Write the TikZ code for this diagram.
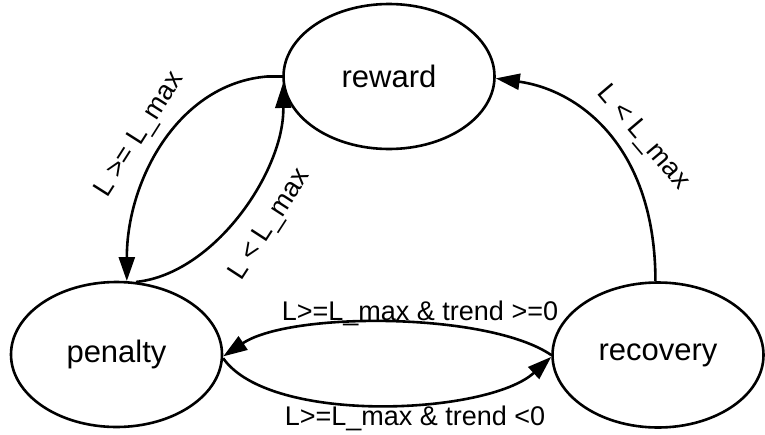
\documentclass[tikz,border=0pt]{standalone}
\usepackage{fontspec}
\setmainfont{Liberation Sans}
\usetikzlibrary{arrows.meta,shapes.geometric}
\begin{document}
\begin{tikzpicture}[x=1pt,y=-1pt,
  state/.style={ellipse,draw,line width=2.6pt,minimum width=211pt,minimum height=145pt,inner sep=0pt,
    font=\fontsize{31}{36}\selectfont},
  edge/.style={line width=2.6pt,-{Triangle[length=24pt,width=16pt]}},
  lbl/.style={font=\fontsize{27}{32}\selectfont,inner sep=0pt}]
\useasboundingbox (0,0) rectangle (765,434);
\node[state] (reward) at (389,76.5) {reward};
\node[state] (penalty) at (116.5,354.5) {penalty};
\node[state] (recovery) at (658,355) {recovery};
% reward -> penalty
\draw[edge] (reward.west) -- ++(-15,0) .. controls +(-88,7) and +(0,-102) .. (penalty.82);
% penalty -> reward
\draw[edge] (penalty.75) .. controls +(79,-8) and +(2,86) .. (reward.184);
% recovery -> reward
\draw[edge] (recovery.92) .. controls +(0,-133) and +(85,12) .. (reward.359);
% recovery -> penalty
\draw[edge] (recovery.west) .. controls +(-63,-43) and +(67,-45) .. (penalty.359);
% penalty -> recovery
\draw[edge] (penalty.358) .. controls +(47,67) and +(-63,58) .. (recovery.181);
% labels
\node[lbl,rotate=57.6] (l1) at (140,135) {L >= L\_max};
\node[lbl,rotate=57] (l2) at (270,225) {L < L\_max};
\node[lbl,rotate=-49.7] (l3) at (643,138) {L < L\_max};
\node[lbl,anchor=base] (l4) at (420,320) {L>=L\_max \& trend >=0};
\node[lbl,anchor=base] (l5) at (415,425) {L>=L\_max \& trend <0};
\end{tikzpicture}
\end{document}
